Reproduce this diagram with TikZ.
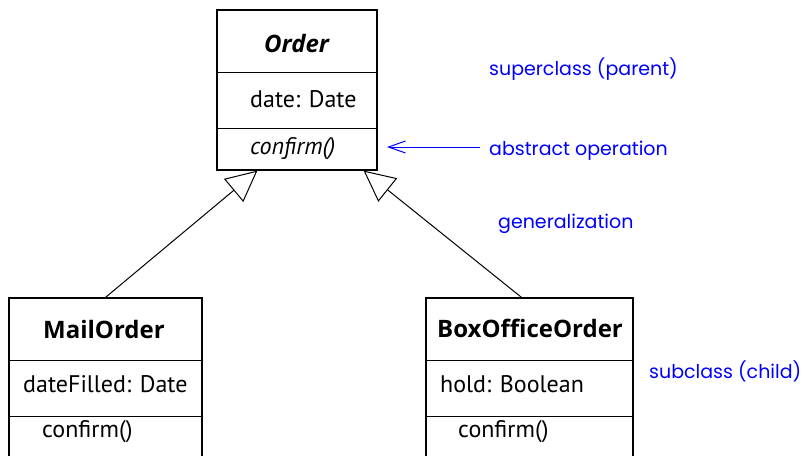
\documentclass[tikz,border=0pt]{standalone}
\usepackage{fontspec}
\setmainfont{PT Sans}
\newfontfamily\titlefont{Open Sans}
\newfontfamily\bluefont{Poppins}
\usetikzlibrary{arrows.meta,calc}
\begin{document}
\begin{tikzpicture}[x=1pt,y=-1pt,
  box/.style={draw, line width=1.2pt, inner sep=0pt},
  txt/.style={anchor=base west, inner sep=0pt, font=\fontsize{24}{28}\selectfont},
  ttl/.style={anchor=base west, inner sep=0pt, font=\titlefont\fontsize{24}{28}\selectfont\bfseries},
  note/.style={anchor=base west, inner sep=0pt, text=blue, font=\bluefont\fontsize{19}{22}\selectfont},
  gen/.style={line width=1pt, -{Triangle[open, length=31pt, width=30pt, fill=white, line width=1pt]}},
  pointer/.style={draw=blue, line width=1pt, -{Straight Barb[length=17pt, width=12pt, line width=1pt]}}]
\useasboundingbox (0,0) rectangle (805,455);
\clip (0,0) rectangle (805,455);
% Order
\node[box, minimum width=160pt, minimum height=160pt] (order) at (297,90) {};
\draw[line width=1.2pt] ([yshift=-63pt]order.north west) -- ([yshift=-63pt]order.north east);
\draw[line width=1.2pt] ([yshift=-119pt]order.north west) -- ([yshift=-119pt]order.north east);
\node[ttl, font=\titlefont\fontsize{24}{28}\selectfont\bfseries\itshape] (ordert) at (264,52) {Order};
\node[txt] (ordera) at (250,107) {date: Date};
\node[txt, font=\fontsize{24}{28}\selectfont\itshape] (ordero) at (250,154) {confirm()};
% MailOrder
\node[box, minimum width=193pt, minimum height=170pt] (mail) at (105.5,383) {};
\draw[line width=1.2pt] ([yshift=-63pt]mail.north west) -- ([yshift=-63pt]mail.north east);
\draw[line width=1.2pt] ([yshift=-119pt]mail.north west) -- ([yshift=-119pt]mail.north east);
\node[ttl] (mailt) at (43,338) {MailOrder};
\node[txt] (maila) at (23,392) {dateFilled: Date};
\node[txt] (mailo) at (42,437) {confirm()};
% BoxOfficeOrder
\node[box, minimum width=207pt, minimum height=170pt] (boxo) at (529.5,383) {};
\draw[line width=1.2pt] ([yshift=-63pt]boxo.north west) -- ([yshift=-63pt]boxo.north east);
\draw[line width=1.2pt] ([yshift=-119pt]boxo.north west) -- ([yshift=-119pt]boxo.north east);
\node[ttl] (boxt) at (437,337) {BoxOfficeOrder};
\node[txt] (boxa) at (440,392) {hold: Boolean};
\node[txt] (boxop) at (458,437) {confirm()};
% generalizations
\coordinate (tipL) at ([xshift=41pt]order.south west);
\coordinate (tipR) at ([xshift=-14pt]order.south east);
\coordinate (baseR) at ([xshift=-8pt]boxo.north);
\draw[gen] (mail.north) -- (tipL);
\draw[gen] (baseR) -- (tipR);
% notes
\node[note] (super) at (489,75) {superclass (parent)};
\node[note] (abs) at (489,155) {abstract operation};
\node[note] (gent) at (498,228) {generalization};
\node[note] (sub) at (649,378) {subclass (child)};
\coordinate (absstart) at (480,147);
\coordinate (absend) at (387,147);
\draw[pointer] (absstart) -- (absend);
\end{tikzpicture}
\end{document}
